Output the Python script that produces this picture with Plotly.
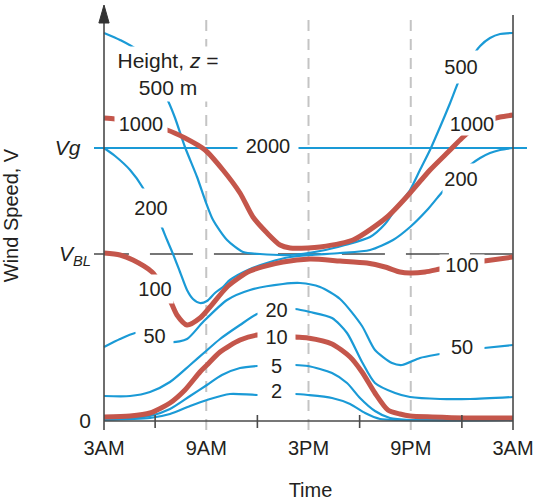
import plotly.graph_objects as go

# hours after 3 AM (0..24) ; wind speed in arbitrary units (Vg = 273, VBL = 167)
VG = 273
VBL = 167

t_2000 = [-0.6, 24.82]
v_2000 = [273, 273]

t_1000 = [0, 0.65, 1.53, 2.70, 3.70, 4.75, 5.93, 6.98, 7.98, 8.74, 9.57, 10.33, 10.92, 11.97,
          12.68, 14.61, 16.61, 17.96, 19.13, 20.31, 21.01, 21.78, 22.65, 23.24, 24]
v_1000 = [303, 302, 299, 295, 291, 283, 271, 251, 228, 204, 188, 176, 173, 173,
          174, 181, 204, 228, 251, 271, 283, 294, 301, 304, 306]

t_500 = [0, 0.94, 1.94, 2.70, 3.29, 3.76, 4.17, 4.75, 5.46, 5.93, 6.40, 7.22, 8.16, 9.15, 10.92,
         12.68, 14.14, 15.61, 16.49, 17.19, 17.96, 18.54, 19.13, 19.72, 20.31, 20.89, 21.48,
         22.07, 22.65, 23.24, 24]
v_500 = [388, 381, 371, 353, 335, 320, 303, 274, 244, 221, 201, 181, 169, 167, 166,
         170, 176, 184, 197, 214, 231, 251, 271, 294, 318, 343, 361,
         375, 383, 387, 388]

t_200 = [0, 0.65, 1.53, 2.29, 3.29, 3.70, 4.05, 4.46, 4.87, 5.22, 5.63, 6.04, 6.51, 6.98, 7.39,
         8.57, 9.74, 10.92, 12.09, 13.85, 15.61, 16.96, 17.96, 18.96, 19.60, 20.31, 21.01,
         21.48, 22.07, 22.65, 23.24, 24]
v_200 = [273, 265, 251, 233, 198, 181, 167, 149, 131, 122, 118, 120, 128, 134, 141,
         152, 159, 164, 166, 168, 171, 181, 194, 211, 224, 238, 249,
         256, 263, 268, 271, 273]

t_100 = [0, 0.94, 1.70, 2.82, 3.40, 3.87, 4.28, 4.87, 5.63, 6.22, 7.28, 8.57, 10.50, 12.09,
         13.85, 15.43, 16.49, 17.37, 17.96, 18.84, 19.72, 20.89, 22.30, 24]
v_100 = [168, 166, 161, 149, 135, 121, 106, 96, 103, 114, 135, 150, 159, 162,
         160, 158, 154, 149, 148, 149, 152, 156, 160, 164]

t_50 = [0, 0.94, 1.82, 2.70, 3.29, 3.99, 4.87, 5.81, 7.22, 8.57, 10.50, 11.50, 12.68, 13.85,
        15.14, 15.90, 16.90, 17.49, 18.54, 19.72, 21.01, 22.30, 24]
v_50 = [74, 82, 88, 89, 84, 79, 82, 99, 121, 131, 137, 138, 134, 122,
        95, 71, 58, 56, 63, 67, 71, 73, 76]

t_20 = [0, 1.53, 2.70, 3.87, 5.05, 5.99, 6.81, 7.98, 8.98, 10.04, 11.21, 12.09, 13.38, 14.26,
        15.14, 15.90, 17.08, 17.96, 19.72, 21.48, 24]
v_20 = [25, 25, 29, 39, 56, 70, 82, 96, 107, 112, 112, 109, 103, 88,
        59, 38, 28, 24, 22, 22, 24]

t_10 = [0, 1.53, 2.70, 3.87, 4.75, 5.63, 6.04, 6.81, 7.98, 8.98, 10.04, 11.21, 11.97, 13.38,
        14.44, 15.14, 15.90, 16.66, 17.37, 17.96, 19.25, 21.19, 24]
v_10 = [4, 5, 8, 18, 31, 49, 56, 69, 81, 86, 86, 84, 83, 77,
        64, 49, 28, 11, 7, 5, 4, 3, 3]

t_5 = [0, 2.70, 3.87, 5.05, 6.04, 6.92, 7.98, 8.98, 11.21, 11.97, 13.38, 14.26, 15.02, 15.90,
       16.78, 17.96, 24]
v_5 = [1, 5, 12, 25, 36, 46, 53, 55, 56, 55, 48, 38, 23, 10,
       3, 1, 1]

t_2 = [0, 2.70, 3.87, 5.05, 6.04, 7.39, 8.98, 11.21, 11.97, 13.38, 14.44, 15.32, 16.20, 17.37, 24]
v_2 = [1, 3, 7, 15, 21, 27, 26, 27, 26, 23, 17, 8, 2, 1, 1]

x_tick_vals = [0, 6, 12, 18, 24]
x_tick_text = ["3AM", "9AM", "3PM", "9PM", "3AM"]
minor_tick_vals = [3, 9, 15, 21]
grid_vals = [6, 12, 18]
y_tick_vals = [0, VBL, VG]
y_tick_text = ["0", "<i>V<sub>BL</sub></i>", "<i>Vg</i>\u2002"]

BLUE = "#1a9ad6"
RED = "#c4564b"
TXT = "#231f20"
AX = "#4a4a4a"
FONT = "Liberation Sans, Arial, sans-serif"

fig = go.Figure()

blue_series = [(t_2000, v_2000), (t_500, v_500), (t_200, v_200), (t_50, v_50),
               (t_20, v_20), (t_5, v_5), (t_2, v_2)]
red_series = [(t_1000, v_1000), (t_100, v_100), (t_10, v_10)]

for t, v in blue_series:
    fig.add_trace(go.Scatter(x=t, y=v, mode="lines", hoverinfo="skip", showlegend=False,
                             line=dict(color=BLUE, width=2.2, shape="spline", smoothing=0.7)))
for t, v in red_series:
    fig.add_trace(go.Scatter(x=t, y=v, mode="lines", hoverinfo="skip", showlegend=False,
                             line=dict(color=RED, width=5, shape="spline", smoothing=0.7)))

shapes = []
# dashed grey verticals
for g in grid_vals:
    shapes.append(dict(type="line", x0=g, x1=g, y0=-9, y1=406, xref="x", yref="y", layer="below",
                       line=dict(color="#c4c4c4", width=2, dash="11px,8px")))
# V_BL dashed line
shapes.append(dict(type="line", x0=-1.06, x1=24, y0=VBL, y1=VBL, xref="x", yref="y", layer="below",
                   line=dict(color=AX, width=1.5, dash="43px,21px")))
# axes
shapes.append(dict(type="line", x0=0, x1=0, y0=-9, y1=401, xref="x", yref="y", layer="above",
                   line=dict(color=AX, width=1.6)))
shapes.append(dict(type="line", x0=24, x1=24, y0=-9, y1=406, xref="x", yref="y", layer="above",
                   line=dict(color=AX, width=1.6)))
shapes.append(dict(type="line", x0=0, x1=24, y0=0, y1=0, xref="x", yref="y", layer="above",
                   line=dict(color=AX, width=1.6)))
for m in minor_tick_vals:
    shapes.append(dict(type="line", x0=m, x1=m, y0=-7, y1=6, xref="x", yref="y", layer="above",
                       line=dict(color=AX, width=1.6)))
# arrow head
shapes.append(dict(type="path", path="M -0.3,398 L 0.3,398 L 0,416 Z", xref="x", yref="y",
                   fillcolor="#333", line=dict(color="#333", width=1), layer="above"))

labels = [
    ("Height, <i>z</i> =<br>500 m", 3.76, 347, 112, 54, 21),
    ("1000", 2.17, 297, 52, 22, 20),
    ("2000", 9.62, 275, 60, 20, 20),
    ("200", 2.73, 213, 36, 38, 20),
    ("100", 2.99, 132, 36, 28, 20),
    ("50", 2.99, 85, 37, 22, 20),
    ("20", 10.12, 111, 37, 22, 20),
    ("10", 10.12, 84, 37, 22, 20),
    ("5", 10.12, 55, 37, 22, 20),
    ("2", 10.12, 30, 37, 22, 20),
    ("500", 20.92, 354, 36, 32, 20),
    ("1000", 21.62, 297, 46, 22, 20),
    ("200", 20.92, 242, 36, 30, 20),
    ("100", 21.01, 156, 44, 20, 20),
    ("50", 21.01, 74, 44, 22, 20),
]
annotations = []
for text, x, y, w, h, fs in labels:
    annotations.append(dict(text=text, x=x, y=y, xref="x", yref="y", showarrow=False,
                            width=w, height=h, borderpad=0, bgcolor="white",
                            font=dict(family=FONT, size=fs, color=TXT)))

fig.update_layout(
    width=533, height=501,
    margin=dict(l=94, r=6, t=0, b=70),
    plot_bgcolor="white", paper_bgcolor="white",
    shapes=shapes, annotations=annotations,
    font=dict(family=FONT, size=21, color=TXT),
    xaxis=dict(range=[-0.587, 24.821], showgrid=False, zeroline=False, showline=False,
               automargin=False, ticklabeloverflow="allow",
               tickvals=x_tick_vals, ticktext=x_tick_text, ticks="", ticklabelstandoff=3,
               tickfont=dict(size=20, color=TXT),
               title=dict(text="Time", standoff=24, font=dict(size=20, color=TXT))),
    yaxis=dict(range=[-10, 421], showgrid=False, zeroline=False, showline=False,
               automargin=False,
               tickvals=y_tick_vals, ticktext=y_tick_text, ticks="", ticklabelstandoff=2,
               tickfont=dict(size=21, color=TXT),
               title=dict(text="Wind Speed, V", standoff=30, font=dict(size=20, color=TXT))),
)

fig.write_html("out.html", config={"displayModeBar": False},
               post_script="document.body.style.margin='0';document.body.style.overflow='hidden';")
